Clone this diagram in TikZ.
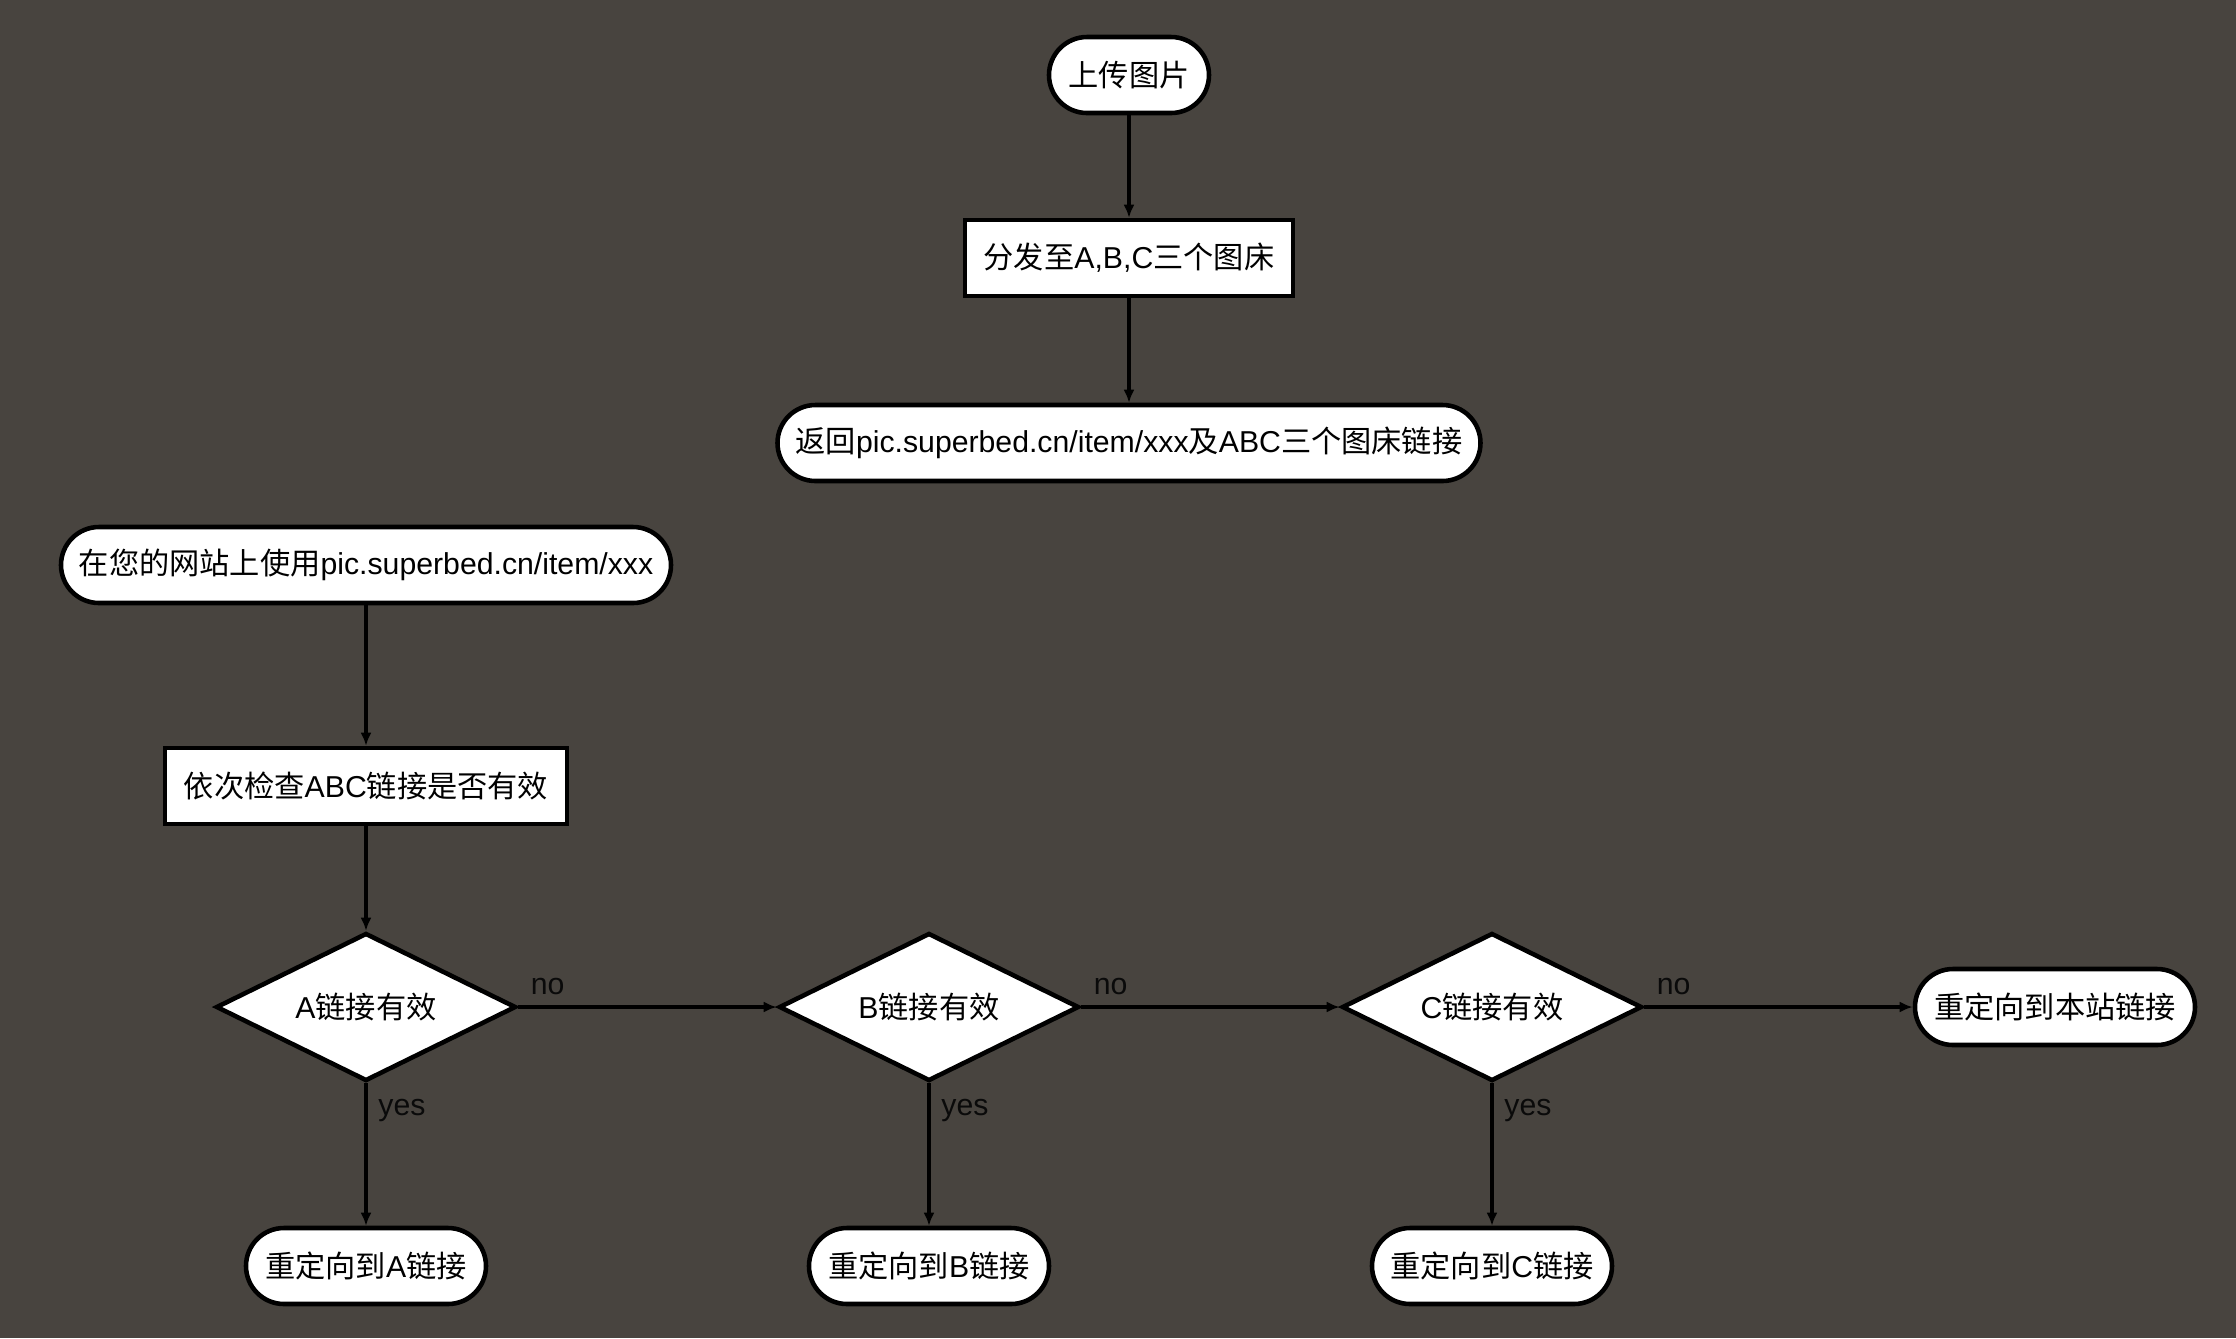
\documentclass[tikz,border=0pt]{standalone}
\usepackage{fontspec}
\setmainfont{Liberation Sans}
\newfontfamily\cjk{Noto Sans CJK SC}
\usetikzlibrary{arrows.meta,shapes.geometric}
\definecolor{bgcolor}{HTML}{48443F}
\definecolor{darkline}{HTML}{000000}
\definecolor{boxfill}{HTML}{FFFFFF}
\definecolor{labelgray}{HTML}{0A0A0A}
\tikzset{
  card/.style={rectangle, align=center, draw=darkline, fill=boxfill, line width=1.3pt, minimum height=0.76cm, inner sep=0pt, font=\fontsize{8.6}{10}\selectfont},
  terminal/.style={card, rounded corners=0.38cm},
  process/.style={card},
  decision/.style={card, diamond, aspect=2, minimum width=3.0cm, minimum height=1.48cm},
  flow/.style={-{Latex[length=1.3mm, width=1.1mm]}, line width=1.1pt, draw=darkline},
  lab/.style={font=\fontsize{8.6}{10}\selectfont, text=labelgray, inner sep=3pt}
}

\begin{document}
\begin{tikzpicture}

\fill[bgcolor] (0,0) rectangle (22.36,-13.38);
\useasboundingbox (0,0) rectangle (22.36,-13.38);

% upload branch
\node[terminal, minimum width=1.6cm] (upload) at (11.29,-0.75) {{\cjk 上传图片}};
\node[process, minimum width=3.28cm] (dispatch) at (11.29,-2.58) {{\cjk 分发至}A,B,C{\cjk 三个图床}};
\node[terminal, minimum width=7.03cm] (result) at (11.29,-4.43) {{\cjk 返回}pic.superbed.cn/item/xxx{\cjk 及}ABC{\cjk 三个图床链接}};

% usage branch
\node[terminal, minimum width=6.1cm] (usesite) at (3.66,-5.65) {{\cjk 在您的网站上使用}pic.superbed.cn/item/xxx};
\node[process, minimum width=4.02cm] (check) at (3.66,-7.86) {{\cjk 依次检查}ABC{\cjk 链接是否有效}};

\node[decision] (validA) at (3.66,-10.07) {A{\cjk 链接有效}};
\node[decision] (validB) at (9.29,-10.07) {B{\cjk 链接有效}};
\node[decision] (validC) at (14.92,-10.07) {C{\cjk 链接有效}};
\node[terminal, minimum width=2.8cm] (gosite) at (20.55,-10.07) {{\cjk 重定向到本站链接}};

\node[terminal, minimum width=2.4cm] (goA) at (3.66,-12.66) {{\cjk 重定向到}A{\cjk 链接}};
\node[terminal, minimum width=2.4cm] (goB) at (9.29,-12.66) {{\cjk 重定向到}B{\cjk 链接}};
\node[terminal, minimum width=2.4cm] (goC) at (14.92,-12.66) {{\cjk 重定向到}C{\cjk 链接}};

\draw[flow] (upload) -- (dispatch);
\draw[flow] (dispatch) -- (result);
\draw[flow] (usesite) -- (check);
\draw[flow] (check) -- (validA);

\draw[flow] (validA.east) -- node[lab, pos=0, anchor=south west] {no} (validB.west);
\draw[flow] (validB.east) -- node[lab, pos=0, anchor=south west] {no} (validC.west);
\draw[flow] (validC.east) -- node[lab, pos=0, anchor=south west] {no} (gosite.west);

\draw[flow] (validA.south) -- node[lab, pos=0, anchor=north west, yshift=-1pt] {yes} (goA.north);
\draw[flow] (validB.south) -- node[lab, pos=0, anchor=north west, yshift=-1pt] {yes} (goB.north);
\draw[flow] (validC.south) -- node[lab, pos=0, anchor=north west, yshift=-1pt] {yes} (goC.north);

\end{tikzpicture}
\end{document}
